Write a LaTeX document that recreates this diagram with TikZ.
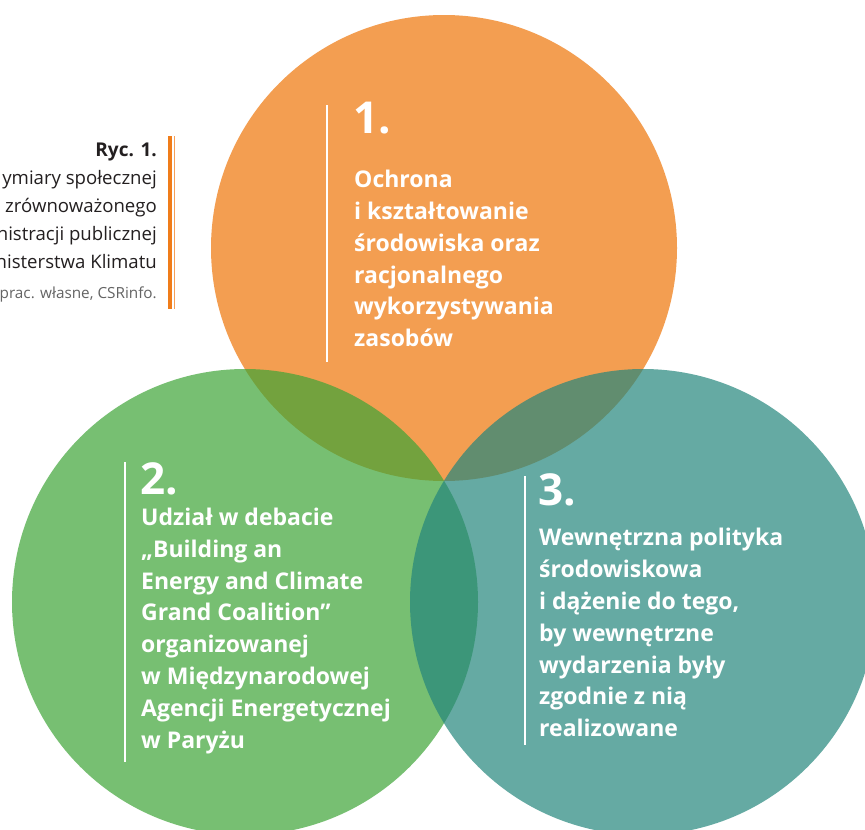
\documentclass[tikz,border=0pt]{standalone}
\usepackage{fontspec}
\setmainfont{Open Sans}
\definecolor{orangeC}{RGB}{243,158,81}
\definecolor{greenC}{RGB}{62,165,55}
\definecolor{tealC}{RGB}{36,134,124}
\definecolor{barC}{RGB}{240,125,26}
\definecolor{barL}{RGB}{245,160,90}
\definecolor{capC}{RGB}{35,31,32}
\definecolor{srcC}{RGB}{100,100,100}
\begin{document}
\begin{tikzpicture}[x=1pt,y=-1pt,
  disc/.style={circle, inner sep=0pt, minimum size=466pt},
  % multi-line nodes are placed by the baseline of their last line
  bodytext/.style={anchor=base west, inner sep=0pt, align=left, text=white,
    font=\fontsize{23}{31.8}\selectfont\bfseries},
  numtext/.style={anchor=base west, inner sep=0pt, text=white,
    font=\fontsize{44}{44}\selectfont\bfseries},
  whiterule/.style={draw=white, line width=2.4pt},
  captext/.style={anchor=base east, inner sep=0pt, align=right, text=capC,
    font=\fontsize{18.6}{27.7}\selectfont}
]
\clip (0,0) rectangle (865,830);
\fill[white] (0,0) rectangle (865,830);

% three overlapping discs
\node[disc, fill=orangeC] (c1) at (444,248) {};
\node[disc, fill=greenC, fill opacity=0.7] (c2) at (245,602) {};
\node[disc, fill=tealC, fill opacity=0.7] (c3) at (643,602) {};

% caption with orange side bars
\coordinate (b1t) at (170,136);
\coordinate (b1b) at (170,309);
\coordinate (b2t) at (174.5,136);
\coordinate (b2b) at (174.5,309);
\draw[barC, line width=4pt] (b1t) -- (b1b);
\draw[barL, line width=1.6pt] (b2t) -- (b2b);
\node[captext, font=\fontsize{19}{28}\selectfont\bfseries] (ryc) at (157,156) {Ryc. 1.};
\node[captext] (cap) at (157,268) {ymiary społecznej\\zrównoważonego\\nistracji publicznej\\nisterstwa Klimatu};
\node[captext, text=srcC, font=\fontsize{15.3}{28}\selectfont] (src) at (157,298) {prac. własne, CSRinfo.};

% block 1
\coordinate (r1t) at (327,105);
\coordinate (r1b) at (327,362);
\draw[whiterule] (r1t) -- (r1b);
\node[numtext] (n1) at (353,133) {1.};
\node[bodytext] (t1) at (354,346.7) {Ochrona\\i kształtowanie\\środowiska oraz\\racjonalnego\\wykorzystywania\\zasobów};

% block 2
\coordinate (r2t) at (125,462);
\coordinate (r2b) at (125,762);
\draw[whiterule] (r2t) -- (r2b);
\node[numtext] (n2) at (140,494) {2.};
\node[bodytext] (t2) at (141,748) {Udział w debacie\\„Building an\\Energy and Climate\\Grand Coalition”\\organizowanej\\w Międzynarodowej\\Agencji Energetycznej\\w Paryżu};

% block 3
\coordinate (r3t) at (525,476);
\coordinate (r3b) at (525,745);
\draw[whiterule] (r3t) -- (r3b);
\node[numtext] (n3) at (538,505) {3.};
\node[bodytext] (t3) at (539,736.7) {Wewnętrzna polityka\\środowiskowa\\i dążenie do tego,\\by wewnętrzne\\wydarzenia były\\zgodnie z nią\\realizowane};
\end{tikzpicture}
\end{document}
